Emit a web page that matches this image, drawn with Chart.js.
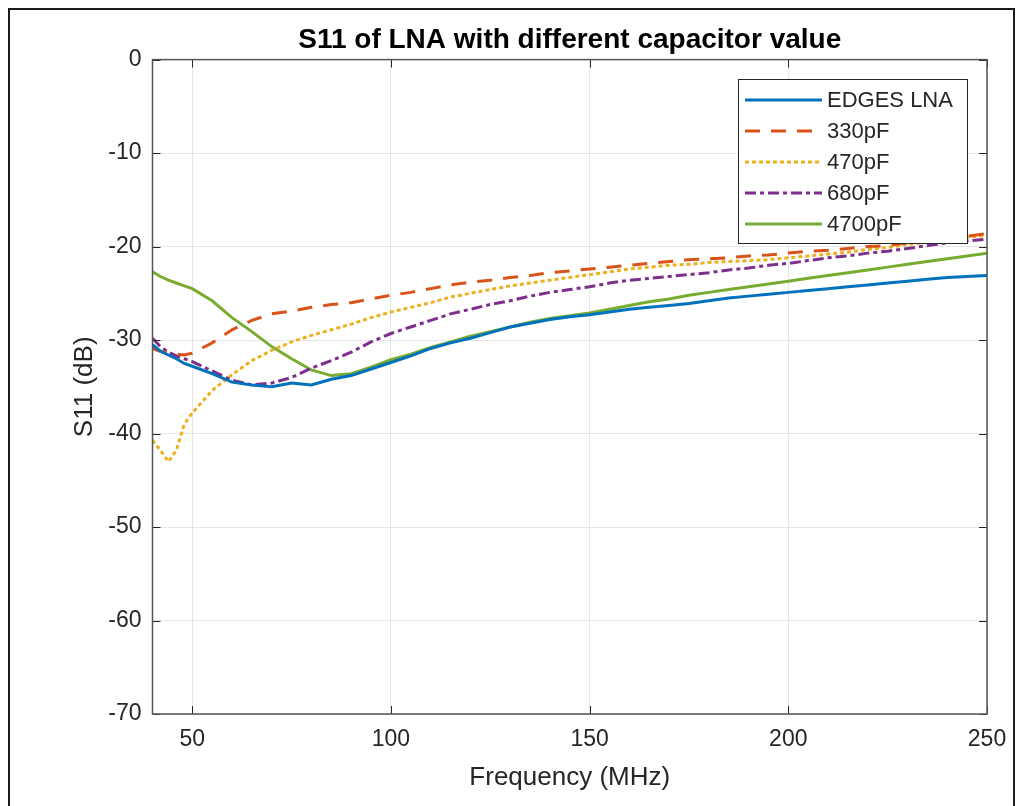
<!DOCTYPE html>
<html>
<head>
  <title>S11 of LNA</title>
  <script src="https://cdn.jsdelivr.net/npm/chart.js"></script>
  <style>
    body { margin: 0; overflow: hidden; background: #fff; }
    #wrap { position: relative; width: 1021px; height: 806px; }
    #frame { position: absolute; left: 8px; top: 8px; width: 1003px; height: 900px;
             border: 2px solid #1a1a1a; border-bottom: none; pointer-events: none; }
  </style>
</head>
<body>
<div id="wrap">
  <canvas id="chart" width="1021" height="806"></canvas>
  <div id="frame"></div>
</div>
<script>
  // frequency points (MHz)
  const freq = [40, 42, 44, 46, 48, 50, 55, 60, 65, 70, 75, 80, 85, 90, 95, 100, 105, 110, 115, 120,
    125, 130, 135, 140, 145, 150, 155, 160, 165, 170, 175, 180, 185, 190, 195, 200, 205, 210, 215, 220,
    225, 230, 235, 240, 245, 250];

  const edgesLna = [-30.5, -31.2, -31.6, -32.0, -32.5, -32.8, -33.6, -34.5, -34.8, -35.0, -34.6, -34.8, -34.2, -33.8, -33.1, -32.4, -31.7, -30.9, -30.3, -29.8,
    -29.2, -28.6, -28.2, -27.8, -27.5, -27.3, -27.0, -26.7, -26.5, -26.3, -26.1, -25.8, -25.5, -25.3, -25.1, -24.9, -24.7, -24.5, -24.3, -24.1,
    -23.9, -23.7, -23.5, -23.3, -23.2, -23.1];

  const cap330 = [-30.9, -31.2, -31.4, -31.5, -31.6, -31.4, -30.3, -28.9, -27.9, -27.2, -26.9, -26.5, -26.2, -26.0, -25.6, -25.2, -24.9, -24.5, -24.1, -23.8,
    -23.6, -23.3, -23.1, -22.8, -22.6, -22.4, -22.2, -22.0, -21.8, -21.6, -21.4, -21.3, -21.2, -21.0, -20.9, -20.7, -20.5, -20.4, -20.2, -20.0,
    -19.9, -19.6, -19.3, -19.1, -18.9, -18.6];

  const cap470 = [-40.7, -41.8, -43.0, -41.8, -39.0, -37.8, -35.4, -33.7, -32.2, -31.1, -30.2, -29.5, -28.9, -28.3, -27.6, -27.0, -26.5, -26.0, -25.4, -25.0,
    -24.6, -24.2, -23.9, -23.6, -23.3, -23.0, -22.7, -22.4, -22.2, -22.0, -21.9, -21.7, -21.6, -21.5, -21.4, -21.2, -21.0, -20.8, -20.6, -20.3,
    -20.1, -19.8, -19.5, -19.2, -19.0, -18.8];

  const cap680 = [-29.8, -30.7, -31.3, -31.7, -32.0, -32.3, -33.3, -34.3, -34.8, -34.6, -34.0, -33.0, -32.2, -31.3, -30.2, -29.3, -28.6, -27.9, -27.2, -26.7,
    -26.2, -25.8, -25.3, -24.9, -24.6, -24.3, -23.9, -23.6, -23.4, -23.2, -23.0, -22.8, -22.5, -22.3, -22.0, -21.8, -21.5, -21.2, -21.0, -20.7,
    -20.5, -20.2, -19.9, -19.6, -19.4, -19.2];

  const cap4700 = [-22.7, -23.2, -23.6, -23.9, -24.2, -24.5, -25.8, -27.6, -29.1, -30.7, -32.0, -33.2, -33.8, -33.6, -32.9, -32.1, -31.5, -30.8, -30.2, -29.6,
    -29.1, -28.6, -28.1, -27.7, -27.4, -27.1, -26.7, -26.3, -25.9, -25.6, -25.2, -24.9, -24.6, -24.3, -24.0, -23.7, -23.4, -23.1, -22.8, -22.5,
    -22.2, -21.9, -21.6, -21.3, -21.0, -20.7];

  const xTicks = [50, 100, 150, 200, 250];
  const yTicks = [0, -10, -20, -30, -40, -50, -60, -70];

  const axisColor = '#262626';
  const font = 'Liberation Sans, Arial, sans-serif';

  function pts(vals) {
    return vals.map((v, i) => ({ x: freq[i], y: v }));
  }

  // MATLAB style inward ticks + box on top/right
  const boxTicks = {
    id: 'boxTicks',
    afterDraw(chart) {
      const { ctx, chartArea: a, scales } = chart;
      ctx.save();
      ctx.strokeStyle = axisColor;
      ctx.lineWidth = 1;
      ctx.beginPath();
      xTicks.forEach(t => {
        const x = Math.round(scales.x.getPixelForValue(t)) + 0.5;
        ctx.moveTo(x, a.bottom); ctx.lineTo(x, a.bottom - 8);
        ctx.moveTo(x, a.top); ctx.lineTo(x, a.top + 8);
      });
      yTicks.forEach(t => {
        const y = Math.round(scales.y.getPixelForValue(t)) + 0.5;
        ctx.moveTo(a.left, y); ctx.lineTo(a.left + 8, y);
        ctx.moveTo(a.right, y); ctx.lineTo(a.right - 8, y);
      });
      ctx.stroke();
      ctx.strokeStyle = '#555';
      ctx.lineWidth = 1.5;
      ctx.strokeRect(a.left, a.top, a.right - a.left, a.bottom - a.top);
      ctx.restore();
    }
  };

  // legend box inside the axes, top right
  const insideLegend = {
    id: 'insideLegend',
    afterDraw(chart) {
      const { ctx } = chart;
      const left = 738, top = 79, w = 229, h = 164;
      ctx.save();
      ctx.fillStyle = '#fff';
      ctx.fillRect(left, top, w, h);
      ctx.strokeStyle = axisColor;
      ctx.lineWidth = 1;
      ctx.strokeRect(left + 0.5, top + 0.5, w, h);
      ctx.font = '22px ' + font;
      ctx.textBaseline = 'middle';
      chart.data.datasets.forEach((ds, i) => {
        const y = top + 21 + i * 31;
        ctx.strokeStyle = ds.borderColor;
        ctx.lineWidth = ds.borderWidth;
        ctx.setLineDash(ds.borderDash || []);
        ctx.beginPath();
        ctx.moveTo(left + 7, y);
        ctx.lineTo(left + 84, y);
        ctx.stroke();
        ctx.setLineDash([]);
        ctx.fillStyle = axisColor;
        ctx.fillText(ds.label, left + 89, y + 1);
      });
      ctx.restore();
    }
  };

  function line(label, data, color, dash) {
    return {
      label: label,
      data: pts(data),
      borderColor: color,
      backgroundColor: color,
      borderWidth: 3,
      borderDash: dash,
      pointRadius: 0,
      fill: false,
      tension: 0
    };
  }

  new Chart(document.getElementById('chart'), {
    type: 'line',
    data: {
      datasets: [
        line('EDGES LNA', edgesLna, '#0072BD', []),
        line('330pF', cap330, '#D95319', [15, 11]),
        line('470pF', cap470, '#EDB120', [4, 3]),
        line('680pF', cap680, '#7E2F8E', [11, 4, 4, 4]),
        line('4700pF', cap4700, '#77AC30', [])
      ]
    },
    options: {
      responsive: false,
      animation: false,
      layout: { padding: { left: 0, right: 34, top: 0, bottom: 0 } },
      plugins: {
        legend: { display: false },
        tooltip: { enabled: false },
        title: {
          display: true,
          fullSize: false,
          text: 'S11 of LNA with different capacitor value',
          color: '#000',
          font: { family: font, size: 28, weight: 'bold' },
          padding: { top: 23, bottom: 3 }
        }
      },
      scales: {
        x: {
          type: 'linear',
          min: 40,
          max: 250,
          afterFit: s => { s.height = 92; },
          afterBuildTicks: s => { s.ticks = xTicks.map(v => ({ value: v })); },
          grid: { color: '#e6e6e6', drawTicks: false, tickLength: 0 },
          border: { display: false },
          ticks: { color: axisColor, font: { family: font, size: 23 }, padding: 12, maxRotation: 0 },
          title: {
            display: true,
            text: 'Frequency (MHz)',
            color: axisColor,
            font: { family: font, size: 26 },
            padding: { top: 13, bottom: 13 }
          }
        },
        y: {
          min: -70,
          max: 0,
          afterFit: s => { s.width = 152.5; },
          afterBuildTicks: s => { s.ticks = yTicks.map(v => ({ value: v })); },
          grid: { color: '#e6e6e6', drawTicks: false, tickLength: 0 },
          border: { display: false },
          ticks: { color: axisColor, font: { family: font, size: 23 }, padding: 11 },
          title: {
            display: true,
            text: 'S11 (dB)',
            color: axisColor,
            font: { family: font, size: 26 },
            padding: { top: 69, bottom: 0 }
          }
        }
      }
    },
    plugins: [boxTicks, insideLegend]
  });
</script>
</body>
</html>
